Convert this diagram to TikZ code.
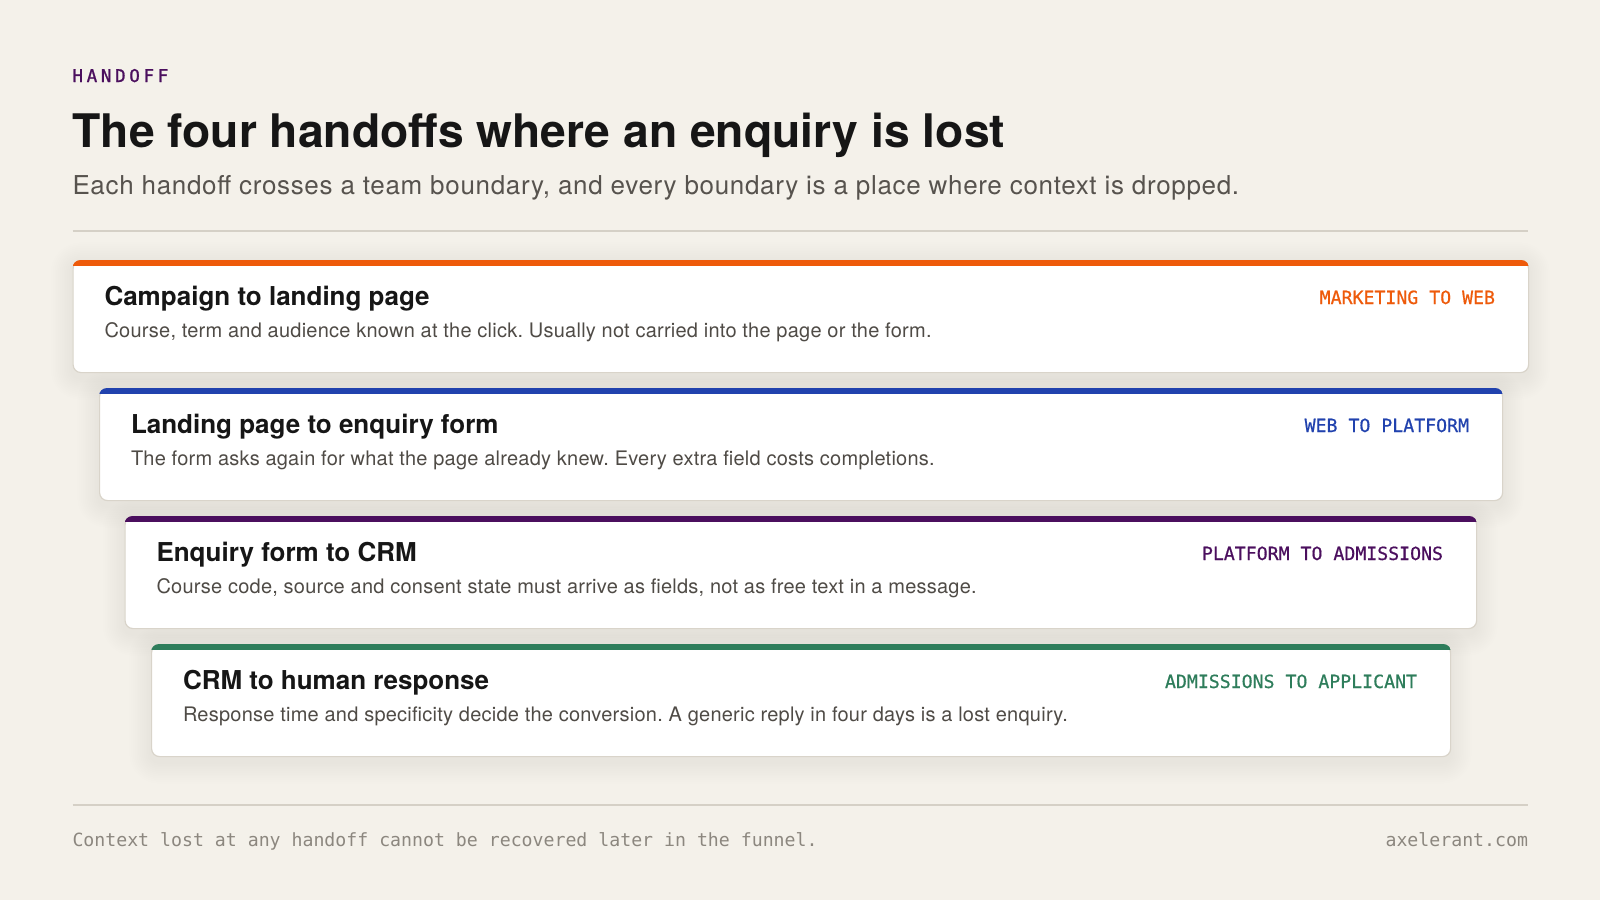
\documentclass[tikz,border=0pt]{standalone}
\usepackage{fontspec}
\setmainfont{TeX Gyre Heros}
\newfontfamily\monofont{DejaVu Sans Mono}
\frenchspacing
\definecolor{bg}{HTML}{F4F1EA}
\definecolor{ruleC}{HTML}{D5D0C6}
\definecolor{borderC}{HTML}{D9D4CA}
\definecolor{titleC}{HTML}{161616}
\definecolor{subC}{HTML}{57534E}
\definecolor{descC}{HTML}{4F4B46}
\definecolor{footC}{HTML}{8C877F}
\definecolor{orangeC}{HTML}{EE5A0A}
\definecolor{blueC}{HTML}{2142AE}
\definecolor{purpleC}{HTML}{4B0F5E}
\definecolor{greenC}{HTML}{2E7D5B}
\newcommand{\cshadow}[4]{%
  \foreach \s in {1,...,12}{%
    \fill[black, fill opacity=0.0045, rounded corners={8pt+\s*1.8pt}]
      (#1-\s*1.8, #2+4-\s*1.8) rectangle (#1+#3+\s*1.8, #2+#4+6+\s*1.8);
  }%
}
\tikzset{
  txt/.style={inner sep=0pt, outer sep=0pt},
  kicker/.style={txt, anchor=base west, text=purpleC, font=\monofont\fontsize{17.5}{20}\selectfont\addfontfeature{LetterSpace=21,FakeBold=1.2}},
  bigtitle/.style={txt, anchor=base west, text=titleC, font=\bfseries\fontsize{46.25}{50}\selectfont},
  subtitle/.style={txt, anchor=base west, text=subC, font=\fontsize{26}{30}\selectfont\addfontfeature{LetterSpace=2.6}},
  card/.style={rectangle, rounded corners=8pt, fill=white, draw=borderC, line width=1.2pt,
     minimum height=112pt, inner sep=0pt, anchor=north west},
  cardtitle/.style={txt, anchor=base west, text=titleC, font=\bfseries\fontsize{26}{30}\selectfont},
  carddesc/.style={txt, anchor=base west, text=descC, font=\fontsize{20}{24}\selectfont\addfontfeature{LetterSpace=1.2}},
  tag/.style={txt, anchor=base east, font=\monofont\fontsize{18.2}{22}\selectfont\addfontfeature{FakeBold=0.6}},
  foot/.style={txt, text=footC, font=\monofont\fontsize{18.2}{22}\selectfont},
  hrule/.style={draw=ruleC, line width=2pt},
}
\begin{document}
\begin{tikzpicture}[x=1pt, y=-1pt]
\fill[bg] (0,0) rectangle (1600,900);
\useasboundingbox (0,0) rectangle (1600,900);

\node[kicker] (kick) at (72.5,82) {HANDOFF};
\node[bigtitle] (title) at (72.5,147) {The four handoffs where an enquiry is lost};
\node[subtitle] (sub) at (72.5,194) {Each handoff crosses a team boundary, and every boundary is a place where context is dropped.};

\coordinate (r1a) at (72.5,231);
\coordinate (r1b) at (1528,231);
\draw[hrule] (r1a) -- (r1b);

% shadows
\cshadow{72.5}{260}{1455.5}{112}
\cshadow{99}{388}{1403}{112}
\cshadow{124.5}{516}{1351.5}{112}
\cshadow{151}{644}{1299}{112}

% card 1
\node[card, minimum width=1455.5pt] (c1) at (72.5,260) {};
\begin{scope}
\clip[rounded corners=8pt] (c1.north west) rectangle (c1.south east);
\fill[orangeC] (c1.north west) rectangle ([yshift=-6pt]c1.north east);
\end{scope}
\node[cardtitle] (t1) at (104.5,305) {Campaign to landing page};
\node[carddesc] (d1) at (104.5,337) {Course, term and audience known at the click. Usually not carried into the page or the form.};
\node[tag, text=orangeC] (g1) at (1495,304) {MARKETING TO WEB};

% card 2
\node[card, minimum width=1403pt] (c2) at (99,388) {};
\begin{scope}
\clip[rounded corners=8pt] (c2.north west) rectangle (c2.south east);
\fill[blueC] (c2.north west) rectangle ([yshift=-6pt]c2.north east);
\end{scope}
\node[cardtitle] (t2) at (131,433) {Landing page to enquiry form};
\node[carddesc] (d2) at (131,465) {The form asks again for what the page already knew. Every extra field costs completions.};
\node[tag, text=blueC] (g2) at (1469,432) {WEB TO PLATFORM};

% card 3
\node[card, minimum width=1351.5pt] (c3) at (124.5,516) {};
\begin{scope}
\clip[rounded corners=8pt] (c3.north west) rectangle (c3.south east);
\fill[purpleC] (c3.north west) rectangle ([yshift=-6pt]c3.north east);
\end{scope}
\node[cardtitle] (t3) at (156.5,561) {Enquiry form to CRM};
\node[carddesc] (d3) at (156.5,593) {Course code, source and consent state must arrive as fields, not as free text in a message.};
\node[tag, text=purpleC] (g3) at (1443,560) {PLATFORM TO ADMISSIONS};

% card 4
\node[card, minimum width=1299pt] (c4) at (151,644) {};
\begin{scope}
\clip[rounded corners=8pt] (c4.north west) rectangle (c4.south east);
\fill[greenC] (c4.north west) rectangle ([yshift=-6pt]c4.north east);
\end{scope}
\node[cardtitle] (t4) at (183,689) {CRM to human response};
\node[carddesc] (d4) at (183,721) {Response time and specificity decide the conversion. A generic reply in four days is a lost enquiry.};
\node[tag, text=greenC] (g4) at (1417,688) {ADMISSIONS TO APPLICANT};

\coordinate (r2a) at (72.5,805);
\coordinate (r2b) at (1528,805);
\draw[hrule] (r2a) -- (r2b);

\node[foot, anchor=base west] (f1) at (72.5,846) {Context lost at any handoff cannot be recovered later in the funnel.};
\node[foot, anchor=base east] (f2) at (1528,846) {axelerant.com};
\end{tikzpicture}
\end{document}
